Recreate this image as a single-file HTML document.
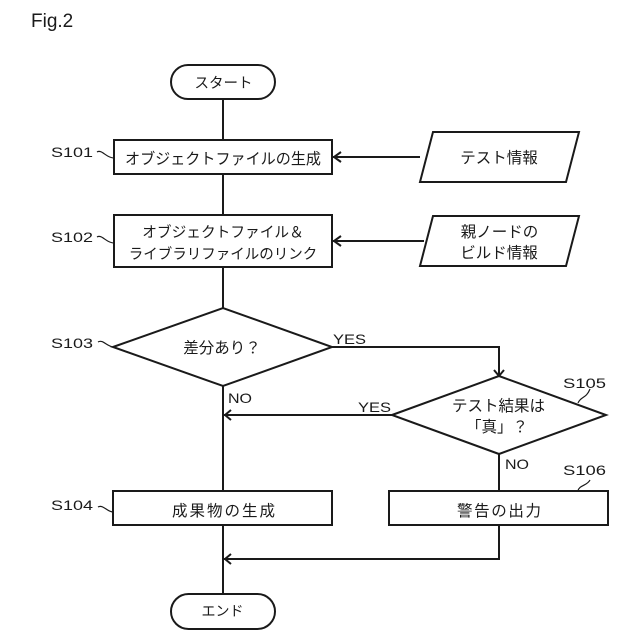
<!DOCTYPE html>
<html><head><meta charset="utf-8"><style>
html,body{margin:0;padding:0;background:#fff}
svg{display:block}
text{font-family:"Liberation Sans","Noto Sans CJK JP",sans-serif;fill:#1a1a1a}
.j{font-size:15.5px;text-anchor:middle}
.l{font-size:14px}
.y{font-size:14px}
.s{fill:#fff;stroke:#1a1a1a;stroke-width:2}
.c{fill:none;stroke:#1a1a1a;stroke-width:2}
.t{fill:none;stroke:#1a1a1a;stroke-width:1.2}
</style></head><body>
<svg width="640" height="640" viewBox="0 0 640 640" xmlns="http://www.w3.org/2000/svg">
<text x="31" y="27" font-size="19">Fig.2</text>
<path class="c" d="M223 99V140M223 174V215M223 267V308M223 386V491M223 525V594M332 157H420M332 241H424M332 347H499V376M392 415H224M499 454V491M499 525V559H224"/>
<path class="c" d="M341 152L334 157L341 162M341 236L334 241L341 246M231 410L225 415L231 420M231 554L225 559L231 564M494 370L499 376L504 370" stroke-width="1.6"/>
<rect class="s" x="171" y="65" width="104" height="34" rx="17"/>
<rect class="s" x="114" y="140" width="218" height="34"/>
<rect class="s" x="114" y="215" width="218" height="52"/>
<polygon class="s" points="433,132 579,132 566,182 420,182"/>
<polygon class="s" points="433,216 579,216 566,266 420,266"/>
<polygon class="s" points="113,347 223,308 332,347 223,386"/>
<polygon class="s" points="392,415 499,376 606,415 499,454"/>
<rect class="s" x="113" y="491" width="219" height="34"/>
<rect class="s" x="389" y="491" width="219" height="34"/>
<rect class="s" x="171" y="594" width="104" height="35" rx="17.5"/>
<text class="j" x="223.500" y="88" style="font-size:14.500px">スタート</text>
<text class="j" x="223" y="164" textLength="196" lengthAdjust="spacingAndGlyphs">オブジェクトファイルの生成</text>
<text class="j" x="223" y="237" style="font-size:14.700px">オブジェクトファイル＆</text>
<text class="j" x="223" y="259" style="font-size:14.500px">ライブラリファイルのリンク</text>
<text class="j" x="499" y="163">テスト情報</text>
<text class="j" x="499.500" y="237">親ノードの</text>
<text class="j" x="499" y="258">ビルド情報</text>
<text class="j" x="222" y="353">差分あり？</text>
<text class="j" x="498.500" y="411">テスト結果は</text>
<text class="j" x="497" y="432">「真」？</text>
<text class="j" x="223.500" y="516" textLength="103" lengthAdjust="spacing">成果物の生成</text>
<text class="j" x="499" y="516" textLength="84" lengthAdjust="spacing">警告の出力</text>
<text class="j" x="222.500" y="616" style="font-size:14px">エンド</text>
<text class="l" x="51" y="157" textLength="42" lengthAdjust="spacingAndGlyphs">S101</text>
<text class="l" x="51" y="242" textLength="42" lengthAdjust="spacingAndGlyphs">S102</text>
<text class="l" x="51" y="348" textLength="42" lengthAdjust="spacingAndGlyphs">S103</text>
<text class="l" x="51" y="510" textLength="42" lengthAdjust="spacingAndGlyphs">S104</text>
<text class="l" x="563" y="388" textLength="43" lengthAdjust="spacingAndGlyphs">S105</text>
<text class="l" x="563" y="475" textLength="43" lengthAdjust="spacingAndGlyphs">S106</text>
<text class="y" x="333" y="344" textLength="33" lengthAdjust="spacingAndGlyphs">YES</text>
<text class="y" x="358" y="412" textLength="33" lengthAdjust="spacingAndGlyphs">YES</text>
<text class="y" x="228" y="403" textLength="24" lengthAdjust="spacingAndGlyphs">NO</text>
<text class="y" x="505" y="469" textLength="24" lengthAdjust="spacingAndGlyphs">NO</text>
<path class="t" d="M97 152C102 149 106 158 114 158M97 237C102 234 106 243 114 243M98 342C103 339 107 347 114 347M98 507C103 504 107 512 113 512M578 403C581 396 586 399 590 389M578 491C579 485 587 486 590 480"/>
</svg>
</body></html>
